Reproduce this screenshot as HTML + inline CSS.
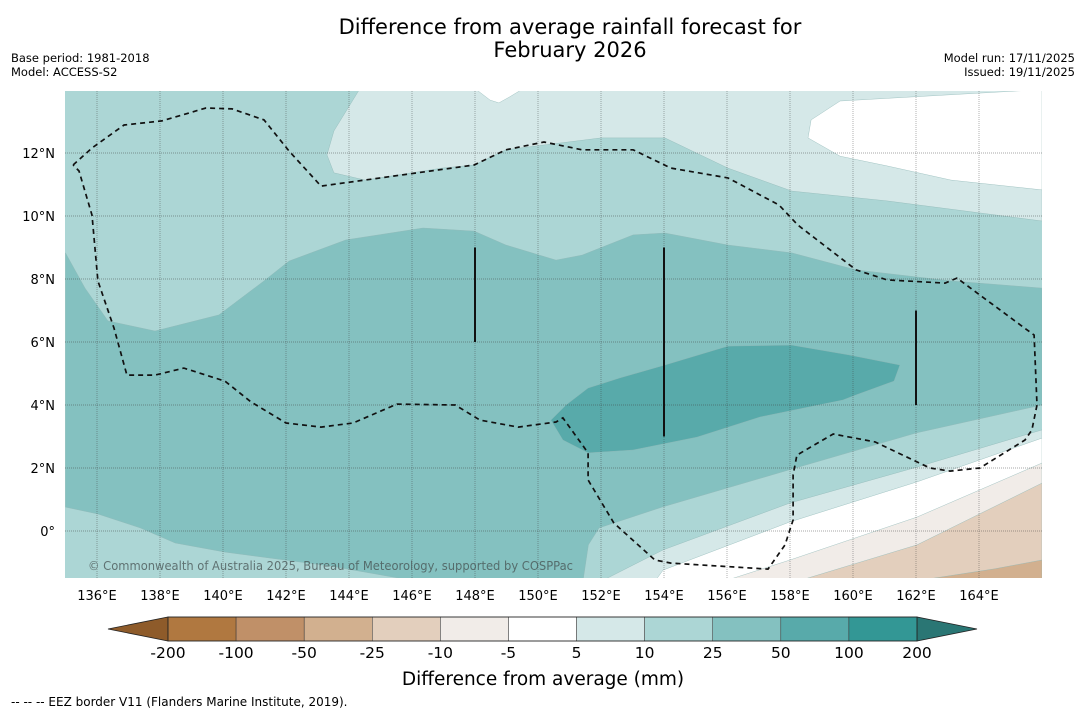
<!DOCTYPE html>
<html><head><meta charset="utf-8">
<style>
html,body{margin:0;padding:0;background:#fff;}
svg{display:block;font-family:"DejaVu Sans","Liberation Sans",sans-serif;}
</style></head>
<body>
<svg id="chart" width="1085" height="713" viewBox="0 0 1085 713" xmlns="http://www.w3.org/2000/svg">
<rect width="1085" height="713" fill="#fff"/>
<text x="570" y="34" font-size="21" text-anchor="middle" fill="#000">Difference from average rainfall forecast for</text>
<text x="570" y="57" font-size="21" text-anchor="middle" fill="#000">February 2026</text>
<text x="11" y="62" font-size="11.5" fill="#000">Base period: 1981-2018</text>
<text x="11" y="76" font-size="11.5" fill="#000">Model: ACCESS-S2</text>
<text x="1075" y="62" font-size="11.5" text-anchor="end" fill="#000">Model run: 17/11/2025</text>
<text x="1075" y="76" font-size="11.5" text-anchor="end" fill="#000">Issued: 19/11/2025</text>
<defs><clipPath id="plotclip"><rect x="65" y="91" width="977" height="487"/></clipPath></defs>
<g id="plot" clip-path="url(#plotclip)"></g>
<g id="axes"></g>
<g id="colorbar"></g>
<text x="543" y="685" font-size="18.5" text-anchor="middle" fill="#000">Difference from average (mm)</text>
<text x="11" y="706" font-size="12" fill="#000">--  --  -- EEZ border V11 (Flanders Marine Institute, 2019).</text>
</svg>
<script>
// ---- data ----
const lonTicks = [136,138,140,142,144,146,148,150,152,154,156,158,160,162,164];
const latTicks = [0,2,4,6,8,10,12];
const cbLabels = ["-200","-100","-50","-25","-10","-5","5","10","25","50","100","200"];
const cbColors = ["#b07840","#c09068","#d2b08f","#e3cfbd","#f1ece8","#ffffff","#d5e8e8","#acd6d5","#84c1c0","#58aaaa","#339795"];
const cbUnder = "#8e5b2a";
const cbOver = "#2a7674";
// contour polygons [lon, lat]
const band5to10North = [[144.32,14],[143.52,12.70],[143.30,11.94],[143.52,11.37],[144.51,11.14],[146.95,11.52],[147.97,11.62],[148.98,12.10],[152.0,12.48],[154.03,12.48],[156.03,11.52],[158.06,10.79],[161.08,10.48],[166,9.84],[166,14]];
const bandNeutralNE = [[165.75,14],[159.59,13.65],[158.67,13.05],[158.57,12.48],[159.59,11.9],[161.08,11.59],[163.11,11.14],[166,10.83],[166,14]];
const bandNeutralNotch = [[148.06,14],[148.48,13.68],[148.76,13.59],[149.1,13.78],[149.46,14]];
const band25to50 = [[135,8.83],[135.62,7.71],[136.35,6.67],[137.84,6.35],[139.87,6.86],[141.30,7.94],[142.10,8.57],[143.90,9.24],[146.35,9.62],[147.97,9.52],[148.98,9.08],[150.57,8.60],[151.40,8.76],[153.02,9.40],[154.03,9.46],[156.03,9.08],[158.06,8.83],[160.10,8.29],[163.11,7.94],[166,7.71],[166,4.0],[162.0,3.11],[157.97,1.94],[153.94,0.76],[151.94,0.10],[151.6,-0.44],[151.44,-1.5],[145.62,-1.5],[143.4,-1.11],[140.06,-0.67],[138.48,-0.38],[137.37,0.10],[136.03,0.54],[135,0.76]];
const band50to100 = [[150.89,4.0],[151.59,4.54],[152.60,4.86],[154.03,5.27],[156.03,5.87],[158.06,5.90],[159.87,5.59],[161.49,5.27],[161.30,4.76],[160.10,4.32],[159.68,4.16],[157.05,3.62],[155.05,2.98],[153.02,2.57],[151.59,2.48],[150.79,2.89],[150.41,3.52]];
const band5to10South = [[152.19,-1.5],[153.97,-0.6],[158.0,0.89],[162.03,2.03],[166,3.21],[166,-1.5]];
const bandNeutralSouth = [[153.78,-1.5],[153.97,-1.24],[158.0,0.29],[162.03,1.56],[166,2.95],[166,-1.5]];
const bandMinus10 = [[156.19,-1.5],[158.0,-0.92],[162.03,0.44],[166,2.16],[166,-1.5]];
const bandMinus25 = [[158.54,-1.5],[162.03,-0.44],[166,1.52],[166,-1.5]];
const bandMinus50 = [[162.54,-1.5],[164.5,-1.2],[166,-0.92],[166,-1.5]];
const eezBorder = [[135.24,11.62],[135.84,12.16],[136.86,12.89],[138.06,13.02],[139.46,13.43],[140.29,13.40],[141.30,13.05],[142.10,12.06],[143.11,10.95],[147.97,11.62],[148.98,12.10],[150.19,12.35],[151.40,12.10],[153.02,12.10],[154.22,11.52],[156.03,11.21],[157.65,10.35],[158.25,9.71],[160.10,8.29],[161.08,7.97],[162.92,7.87],[163.30,8.03],[165.75,6.22],[165.84,4.0],[165.68,3.21],[165.46,2.89],[164.03,2.0],[163.08,1.90],[162.44,2.0],[160.70,2.83],[159.37,3.08],[158.22,2.41],[158.10,1.78],[158.10,0.35],[157.84,-0.44],[157.30,-1.21],[154.22,-1.02],[153.71,-0.92],[152.41,0.25],[151.59,1.62],[151.59,2.48],[150.79,3.59],[150.57,3.46],[149.37,3.30],[148.16,3.52],[147.37,4.0],[145.52,4.03],[144.13,3.43],[143.11,3.30],[142.0,3.43],[140.89,4.1],[140.06,4.76],[138.76,5.17],[137.84,4.95],[136.95,4.95],[136.54,6.44],[136.03,7.94],[135.84,10.03],[135.43,11.43],[135.24,11.62]];
const boundarySegments = [[148,9,6],[154,9,3],[162,7,4]];

// ---- axes ----
const lonDomain=[135,166], xRange=[65.5,65.5+31*31.5];
const latDomain=[0,12], yRange=[531,531-12*31.5];
function xs(lon){return xRange[0]+(lon-lonDomain[0])*(xRange[1]-xRange[0])/(lonDomain[1]-lonDomain[0]);}
function ys(lat){return yRange[0]+(lat-latDomain[0])*(yRange[1]-yRange[0])/(latDomain[1]-latDomain[0]);}
const NS="http://www.w3.org/2000/svg";
function mk(tag,attrs,parent){const e=document.createElementNS(NS,tag);for(const k in attrs)e.setAttribute(k,attrs[k]);parent.appendChild(e);return e;}
const plot=document.getElementById('plot'), axes=document.getElementById('axes'), cb=document.getElementById('colorbar');
function pts(a){return a.map(p=>xs(p[0]).toFixed(1)+','+ys(p[1]).toFixed(1)).join(' ');}

let bg=mk('rect',{x:65,y:91,width:977,height:487,fill:cbColors[7]},plot);


const layers=[[band5to10North,cbColors[6],'band-5-to-10-north'],[bandNeutralNE,cbColors[5],'band-neutral-northeast'],[bandNeutralNotch,cbColors[5],'band-neutral-notch'],[band25to50,cbColors[8],'band-25-to-50'],[band50to100,cbColors[9],'band-50-to-100'],[band5to10South,cbColors[6],'band-5-to-10-south'],[bandNeutralSouth,cbColors[5],'band-neutral-south'],[bandMinus10,cbColors[4],'band-minus-5-to-10'],[bandMinus25,cbColors[3],'band-minus-10-to-25'],[bandMinus50,cbColors[2],'band-minus-25-to-50']];
layers.forEach(l=>{
  const p=mk('polygon',{points:pts(l[0]),fill:l[1],stroke:'#8fb8b6','stroke-width':0.4},plot);
  
  
});
// gridlines
lonTicks.forEach(t=>{
  const g=mk('line',{x1:xs(t),x2:xs(t),y1:91,y2:578,stroke:'rgba(60,60,60,0.4)','stroke-width':1,'stroke-dasharray':'1,1'},plot);
  
  
});
latTicks.forEach(t=>{
  const g=mk('line',{x1:65,x2:1042,y1:ys(t),y2:ys(t),stroke:'rgba(60,60,60,0.45)','stroke-width':1,'stroke-dasharray':'1,1'},plot);
  
  
});
// boundary segments
boundarySegments.forEach(s=>{
  const l=mk('line',{x1:xs(s[0]),x2:xs(s[0]),y1:ys(s[1]),y2:ys(s[2]),stroke:'#111','stroke-width':2},plot);
  
  
});
// eez
const eez=mk('polyline',{points:pts(eezBorder),fill:'none',stroke:'#111','stroke-width':1.7,'stroke-dasharray':'5,4'},plot);


const cr=mk('text',{x:88,y:570,'font-size':12,fill:'rgba(70,80,80,0.75)',textLength:485,lengthAdjust:'spacingAndGlyphs'},plot);
cr.textContent='© Commonwealth of Australia 2025, Bureau of Meteorology, supported by COSPPac';


// tick labels
lonTicks.forEach(t=>{
  const e=mk('text',{x:xs(t),y:600,'font-size':13,'text-anchor':'middle',fill:'#000'},axes);
  e.textContent=t+'°E';
  
  
});
latTicks.forEach(t=>{
  const e=mk('text',{x:55,y:ys(t)+5,'font-size':13,'text-anchor':'end',fill:'#000'},axes);
  e.textContent=t===0?'0°':t+'°N';
  
  
});
// colorbar
const cbX0=168, cbX1=917, cbY=617, cbH=24;
const w=(cbX1-cbX0)/cbColors.length;
const under=mk('polygon',{points:`${cbX0},${cbY} ${cbX0},${cbY+cbH} 108,${cbY+cbH/2}`,fill:cbUnder,stroke:'#222','stroke-width':0.8},cb);


const over=mk('polygon',{points:`${cbX1},${cbY} ${cbX1},${cbY+cbH} 977,${cbY+cbH/2}`,fill:cbOver,stroke:'#222','stroke-width':0.8},cb);


cbColors.forEach((c,i)=>{
  const r=mk('rect',{x:cbX0+i*w,y:cbY,width:w,height:cbH,fill:c,stroke:'#333','stroke-width':0.5},cb);
  
  
});
const fr=mk('rect',{x:cbX0,y:cbY,width:cbX1-cbX0,height:cbH,fill:'none',stroke:'#222','stroke-width':0.8},cb);


cbLabels.forEach((t,i)=>{
  const e=mk('text',{x:cbX0+i*w,y:658,'font-size':15.5,'text-anchor':'middle',fill:'#000'},cb);
  e.textContent=t;
  
  
});
</script>
</body></html>
